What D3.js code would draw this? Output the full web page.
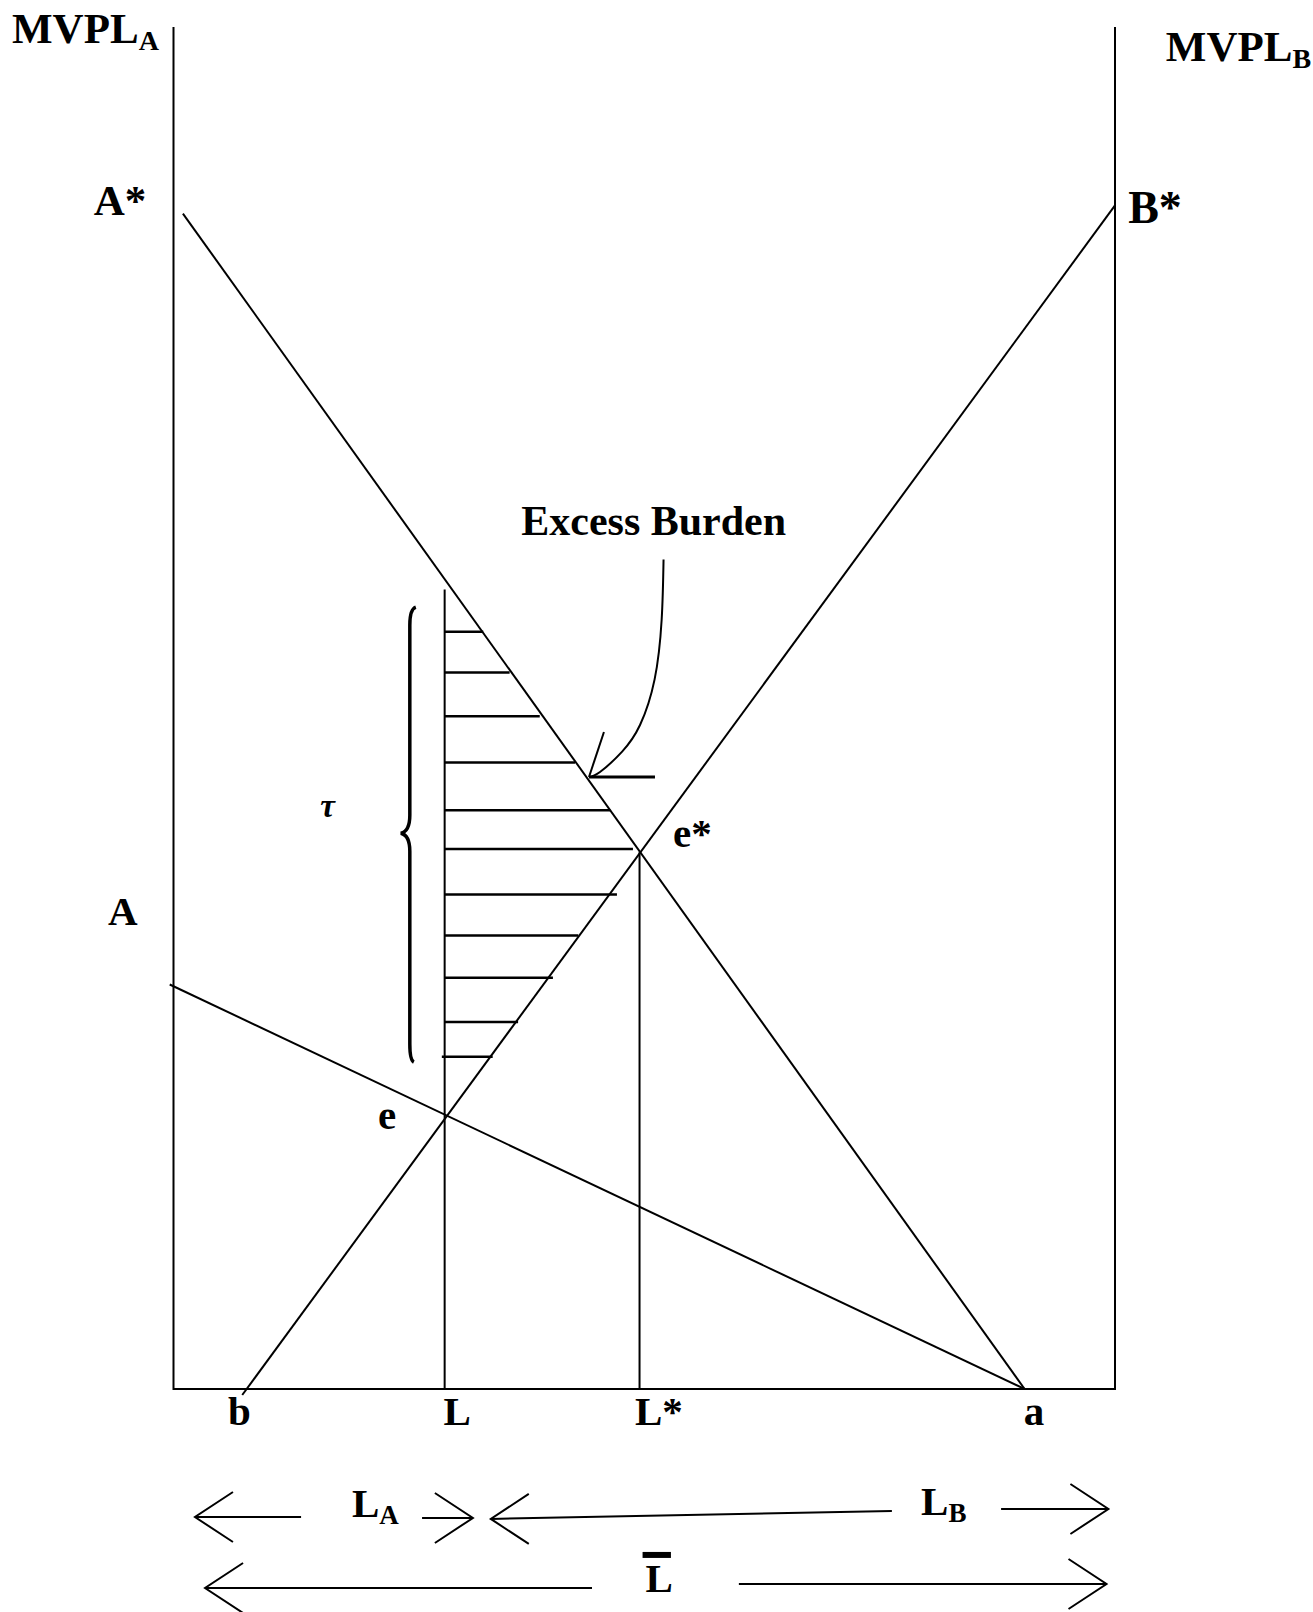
<!DOCTYPE html>
<html>
<head>
<meta charset="utf-8">
<script src="https://d3js.org/d3.v7.min.js"></script>
<style>
  body { margin: 0; background: #fff; }
  text { font-family: "Liberation Serif", "Times New Roman", serif; font-weight: bold; fill: #000; }
</style>
</head>
<body>
<svg id="chart" width="1313" height="1612"></svg>
<script>
// diagram units: labour on x (0 = left wall, 100 = right wall), MVPL on y (0 = floor, 100 = top)
const frameX = [0, 100];
const frameTop = 100;

// marginal value product schedules, [labour, value]
const mvplAStar = [[1.0, 86.3], [90.4, 0]];
const mvplBStar = [[100, 86.9], [7.3, -0.44]];
const mvplA = [[-0.4, 29.7], [90.4, 0]];

// equilibrium allocations
const dropLines = [
  {name: "L",  x: 28.8, top: 58.7},
  {name: "L*", x: 49.5, top: 39.4}
];

// excess burden hatching
const hatchY     = [55.6, 52.6, 49.4, 46.0, 42.5, 39.65, 36.3, 33.3, 30.2, 26.95, 24.4];
const hatchStart = [28.8, 28.8, 28.8, 28.8, 28.8, 28.8, 28.8, 28.8, 28.8, 28.8, 28.5];
const hatchEnd   = [32.9, 35.7, 38.9, 42.65, 46.4, 48.8, 47.1, 43.0, 40.3, 36.6, 33.9];

// tax wedge brace: x, top, tip, bottom
const brace = {x: 25.1, top: 57.4, tip: 40.8, bottom: 24.0};

// pointer from the "Excess Burden" label
const pointerCurve = [[52.05, 60.9], [51.85, 56.5], [51.1, 52.1], [49.55, 48.75], [47.65, 46.8], [45.3, 45.3], [44.13, 44.93]];
const pointerBarbs = [[45.72, 48.24], [51.14, 44.93]];

// labour range arrows under the axis: tail x, head x, tail y, head y
const rangeArrows = [
  {x1: 13.55, x2: 2.28,  y1: -9.40,  y2: -9.40},
  {x1: 26.4,  x2: 31.8,  y1: -9.47,  y2: -9.47},
  {x1: 76.3,  x2: 33.7,  y1: -8.96,  y2: -9.54},
  {x1: 87.9,  x2: 99.3,  y1: -8.81,  y2: -8.81},
  {x1: 44.45, x2: 3.35,  y1: -14.61, y2: -14.61},
  {x1: 60.05, x2: 99.1,  y1: -14.32, y2: -14.32}
];

// labels
const labels = [
  {t: "MVPL", sub: "A", x: -17.15, y: 98.83, kind: "axis"},
  {t: "MVPL", sub: "B", x: 105.4, y: 97.5, kind: "axis"},
  {t: "A*", x: -2.9, y: 86.2, kind: "axis", anchor: "end"},
  {t: "B*", x: 101.4, y: 85.6, kind: "big"},
  {t: "A",  x: -6.96, y: 34.07, kind: "pt"},
  {t: "e",  x: 21.72, y: 19.1, kind: "pt"},
  {t: "e*", x: 53.05, y: 39.8, kind: "pt"},
  {t: "Excess Burden", x: 51.0, y: 62.7, kind: "note", anchor: "middle"},
  {t: "b",  x: 7.0,  y: -2.64, kind: "pt", anchor: "middle"},
  {t: "L",  x: 28.68, y: -2.64, kind: "pt"},
  {t: "L*", x: 49.02, y: -2.64, kind: "pt"},
  {t: "a",  x: 90.3, y: -2.64, kind: "pt"},
  {t: "L", sub: "A", x: 18.96, y: -9.40, kind: "pt"},
  {t: "L", sub: "B", x: 79.4, y: -9.25, kind: "pt"},
  {t: "L", x: 50.14, y: -14.9, kind: "pt", bar: true}
];
const tauLabel = {t: "\u03c4", x: 15.6, y: 42.0};

const fontSize = {axis: 43, big: 46, note: 42, pt: 41};
const subSize = {axis: 28, big: 28, note: 26, pt: 27};

const svg = d3.select("#chart");
const x = d3.scaleLinear().domain([0, 100]).range([173.5, 1115]);
const y = d3.scaleLinear().domain([0, 100]).range([1389, 27]);
const line = d3.line().x(d => x(d[0])).y(d => y(d[1]));

// frame: two walls and the floor
svg.append("path")
  .attr("d", line([[frameX[0], frameTop], [frameX[0], 0], [frameX[1], 0], [frameX[1], frameTop]]))
  .attr("fill", "none")
  .attr("stroke", "#000")
  .attr("stroke-width", 2);

[mvplAStar, mvplBStar, mvplA].forEach(s => {
  svg.append("path")
    .attr("d", line(s))
    .attr("fill", "none")
    .attr("stroke", "#000")
    .attr("stroke-width", 2);
});

dropLines.forEach(d => {
  svg.append("line")
    .attr("x1", x(d.x)).attr("x2", x(d.x))
    .attr("y1", y(d.top)).attr("y2", y(0))
    .attr("stroke", "#000")
    .attr("stroke-width", 2);
});

svg.append("g").selectAll("line")
  .data(hatchY)
  .join("line")
  .attr("x1", (d, i) => x(hatchStart[i]))
  .attr("x2", (d, i) => x(hatchEnd[i]))
  .attr("y1", d => y(d))
  .attr("y2", d => y(d))
  .attr("stroke", "#000")
  .attr("stroke-width", 2.5);

// curly brace
const bx = x(brace.x), bt = y(brace.top), bm = y(brace.tip), bb = y(brace.bottom);
const bp = d3.path();
bp.moveTo(bx + 6, bt);
bp.quadraticCurveTo(bx, bt + 2, bx, bt + 18);
bp.lineTo(bx, bm - 18);
bp.quadraticCurveTo(bx, bm - 2, bx - 9, bm);
bp.quadraticCurveTo(bx, bm + 2, bx, bm + 18);
bp.lineTo(bx, bb - 18);
bp.quadraticCurveTo(bx, bb - 2, bx + 4, bb);
svg.append("path")
  .attr("d", bp.toString())
  .attr("fill", "none")
  .attr("stroke", "#000")
  .attr("stroke-width", 3.5);

// pointer
svg.append("path")
  .attr("d", d3.line().x(d => x(d[0])).y(d => y(d[1])).curve(d3.curveNatural)(pointerCurve))
  .attr("fill", "none")
  .attr("stroke", "#000")
  .attr("stroke-width", 2);
const tip = pointerCurve[pointerCurve.length - 1];
pointerBarbs.forEach((b, i) => {
  svg.append("line")
    .attr("x1", x(tip[0])).attr("y1", y(tip[1]))
    .attr("x2", x(b[0])).attr("y2", y(b[1]))
    .attr("stroke", "#000")
    .attr("stroke-width", i === 1 ? 3 : 2);
});

// range arrows
const headLen = 38, headHalf = 25;
rangeArrows.forEach(a => {
  const hx = x(a.x2), hy = y(a.y2), tx = x(a.x1), ty = y(a.y1);
  const dir = hx > tx ? -1 : 1;
  svg.append("line")
    .attr("x1", tx).attr("y1", ty).attr("x2", hx).attr("y2", hy)
    .attr("stroke", "#000").attr("stroke-width", 2);
  svg.append("path")
    .attr("d", `M${hx + dir * headLen},${hy - headHalf}L${hx},${hy}L${hx + dir * headLen},${hy + headHalf}`)
    .attr("fill", "none")
    .attr("stroke", "#000").attr("stroke-width", 2);
});

// labels
labels.forEach(d => {
  const t = svg.append("text")
    .attr("x", x(d.x))
    .attr("y", y(d.y))
    .attr("text-anchor", d.anchor || "start")
    .style("font-size", fontSize[d.kind] + "px")
    .text(d.t);
  if (d.sub) {
    t.append("tspan")
      .attr("dy", 7)
      .style("font-size", subSize[d.kind] + "px")
      .text(d.sub);
  }
  if (d.bar) {
    const bb = t.node().getBBox();
    svg.append("line")
      .attr("x1", bb.x - 3).attr("x2", bb.x + bb.width - 2)
      .attr("y1", y(d.y) - 37).attr("y2", y(d.y) - 37)
      .attr("stroke", "#000").attr("stroke-width", 6);
  }
});

svg.append("text")
  .attr("x", x(tauLabel.x))
  .attr("y", y(tauLabel.y))
  .style("font-size", "33px")
  .style("font-style", "italic")
  .text(tauLabel.t);
</script>
</body>
</html>
